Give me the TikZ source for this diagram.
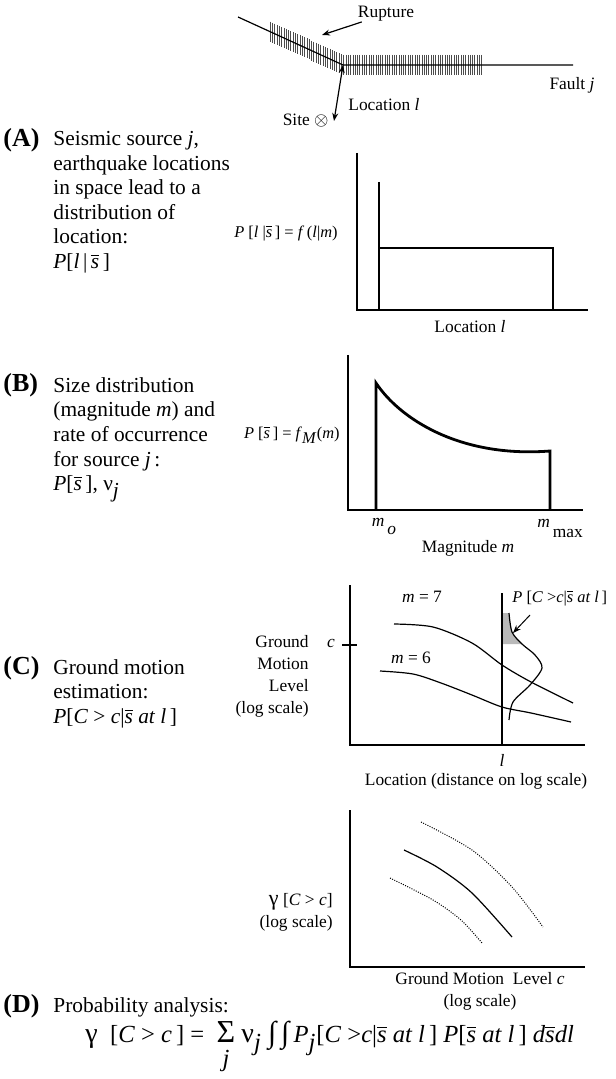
\documentclass[tikz,border=0pt]{standalone}
\usepackage{fontspec}
\setmainfont{Liberation Serif}
\usetikzlibrary{arrows.meta,positioning}
\newcommand\mi[1]{\textit{#1}}
\newcommand\sbar{$\overline{\mbox{\itshape s}}$}

\begin{document}
\begin{tikzpicture}[x=0.5pt,y=-0.5pt,>={Stealth[length=4pt,width=3pt]},
  txt/.style={font=\fontsize{10.7}{12.3}\selectfont,inner sep=0pt,align=left,anchor=north west},
  tag/.style={font=\fontsize{13}{13}\selectfont\bfseries,inner sep=0pt,anchor=base west},
  lab/.style={font=\fontsize{8.7}{11}\selectfont,inner sep=0pt},
  eq/.style={font=\fontsize{8.2}{9}\selectfont,inner sep=0pt},
  axis/.style={line width=0.6pt},
  thick curve/.style={line width=1.4pt},
  thin curve/.style={line width=0.6pt},
  dot curve/.style={line width=0.5pt,dash pattern=on 0.5pt off 0.7pt},
  hatch/.style={line width=0.3pt,black!70}]
\useasboundingbox (0,0) rectangle (615,1079);

% fault trace and rupture
\coordinate (fs) at (238,17);
\coordinate (kink) at (343,65);
\coordinate (fe) at (573,65);
\foreach \hx in {270,272.3,...,482} {
  \pgfmathsetmacro\hy{\hx<343 ? 17+(\hx-238)*0.457 : 65}
  \draw[hatch] (\hx,\hy-10) -- (\hx,\hy+10);
}
\draw[line width=0.6pt] (fs) -- (kink) -- (fe);
\node[lab] (rup) at (386,14) {Rupture};
\coordinate (ruptip) at (322,35);
\draw[->,line width=0.6pt] (rup) -- (ruptip);
\node[lab] (faultj) at (572,85) {Fault \mi{j}};
\node[lab,anchor=west] (locl) at (348,105) {Location \mi{l}};
\node[lab,anchor=east] (site) at (329,121) {Site $\otimes$};
\coordinate (sitetip) at (334,121);
\draw[<->,line width=0.6pt] (kink) -- (sitetip);

% (A) location
\node[tag] (tagA) at (3,147) {(A)};
\node[txt] (descA) at (53,131) {Seismic source \mi{j},\\earthquake locations\\in space lead to a\\distribution of\\location:\\\mi{P}[\mi{l}\,|\,\sbar\,]};
\node[eq,anchor=east] (eqA) at (338,233) {\mi{P} [\mi{l} |\sbar\,] = \mi{f}\,(\mi{l}|\mi{m})};
\draw[axis] (357,153) -- (357,310) -- (588,310);
\draw[thick curve] (379,182) -- (379,310) (379,248) -- (553,248) -- (553,310);
\node[lab] (xA) at (470,327) {Location \mi{l}};

% (B) magnitude
\node[tag] (tagB) at (3,392) {(B)};
\node[txt] (descB) at (53,377) {Size distribution\\(magnitude \mi{m}) and\\rate of occurrence\\for source \mi{j}\,:\\\mi{P}[\sbar\,], ν$_{\mi{j}}$};
\node[eq,anchor=east] (eqB) at (340,435) {\mi{P} [\sbar\,] = \mi{f}$_{\mi{M}}$(\mi{m})};
\draw[axis] (348,355) -- (348,510) -- (583,510);
\draw[thick curve] (376,510) -- (376,383) .. controls (400,419) and (460,458) .. (550,451) -- (550,510);
\node[lab] (mo) at (384,526) {\mi{m}\raisebox{-4pt}{\,\mi{o}}};
\node[lab] (mmax) at (560,528) {\mi{m}\raisebox{-5pt}{\,max}};
\node[lab] (xB) at (468,548) {Magnitude \mi{m}};

% (C) ground motion
\node[tag] (tagC) at (3,674) {(C)};
\node[txt] (descC) at (53,659) {Ground motion\\estimation:\\\mi{P}[\mi{C} > \mi{c}|\sbar\ \mi{at l}\,]};
\node[lab,align=right,anchor=north east] (yC) at (309,635) {Ground\\Motion\\Level\\(log scale)};
\node[lab] (cC) at (331,643) {\mi{c}};
\draw[axis] (342,645) -- (357,645);
\draw[axis] (350,585) -- (350,745) -- (585,745);
\fill[gray!55] (501,644) -- (501,613) -- plot[smooth] coordinates {(509,613) (512,632) (522,644)} -- cycle;
\draw[line width=1.1pt] (502,593) -- (502,745);
\draw[thin curve] plot[smooth] coordinates {(394,624) (433,627) (472,643) (502,665) (531,682) (573,703)};
\draw[thin curve] plot[smooth] coordinates {(380,671) (413,674) (441,683) (472,695) (502,707) (531,713) (571,722)};
\draw[thin curve] plot[smooth] coordinates {(509,613) (512,632) (522,644) (535,655) (542,668) (530,685) (513,702) (509,720)};
\node[lab] (m7) at (422,597) {\mi{m} = 7};
\node[lab] (m6) at (411,658) {\mi{m} = 6};
\node[eq,anchor=west] (pC) at (512,598) {\mi{P} [\mi{C} >\mi{c}|\sbar\ \mi{at l}\,]};
\coordinate (pCfoot) at (530,615);
\coordinate (shade) at (513,633);
\draw[->,line width=0.5pt] (pCfoot) -- (shade);
\node[lab] (lC) at (502,760) {\mi{l}};
\node[lab] (xC) at (476,781) {Location (distance on log scale)};

% (D) hazard
\draw[axis] (350,810) -- (350,967) -- (585,967);
\draw[dot curve] plot[smooth] coordinates {(421,822) (472,850) (512,887) (543,927)};
\draw[thin curve] plot[smooth] coordinates {(404,850) (437,867) (472,893) (512,937)};
\draw[dot curve] plot[smooth] coordinates {(390,878) (433,900) (461,920) (482,943)};
\node[lab,align=right,anchor=north east] (yD) at (333,893) {{\fontsize{11}{11}\selectfont γ} [\mi{C} > \mi{c}]\\(log scale)};
\node[lab,align=center,anchor=north] (xD) at (480,972) {Ground Motion\ \ Level \mi{c}\\(log scale)};
\node[tag] (tagD) at (3,1012) {(D)};
\node[txt,anchor=base west] (descD) at (53,1012) {Probability analysis:};
\node[txt,anchor=base west,font=\fontsize{12.3}{13}\selectfont] (eqD) at (85,1042) {{\fontsize{14}{14}\selectfont γ}\ \ [\mi{C} > \mi{c}\,] =\ \ \begin{tabular}[t]{@{}c@{}}{\fontsize{16}{16}\selectfont Σ}\\[-1pt]\mi{j}\end{tabular}\ {\fontsize{14}{14}\selectfont ν}$_{\mi{j}}$\ {\fontsize{15}{15}\selectfont ∫\,∫}\,\mi{P}$_{\mi{j}}$[\mi{C} >\mi{c}|\sbar\ \mi{at l}\,]\ \mi{P}[\sbar\ \mi{at l}\,]\ \mi{d\sbar dl}};
\end{tikzpicture}
\end{document}
